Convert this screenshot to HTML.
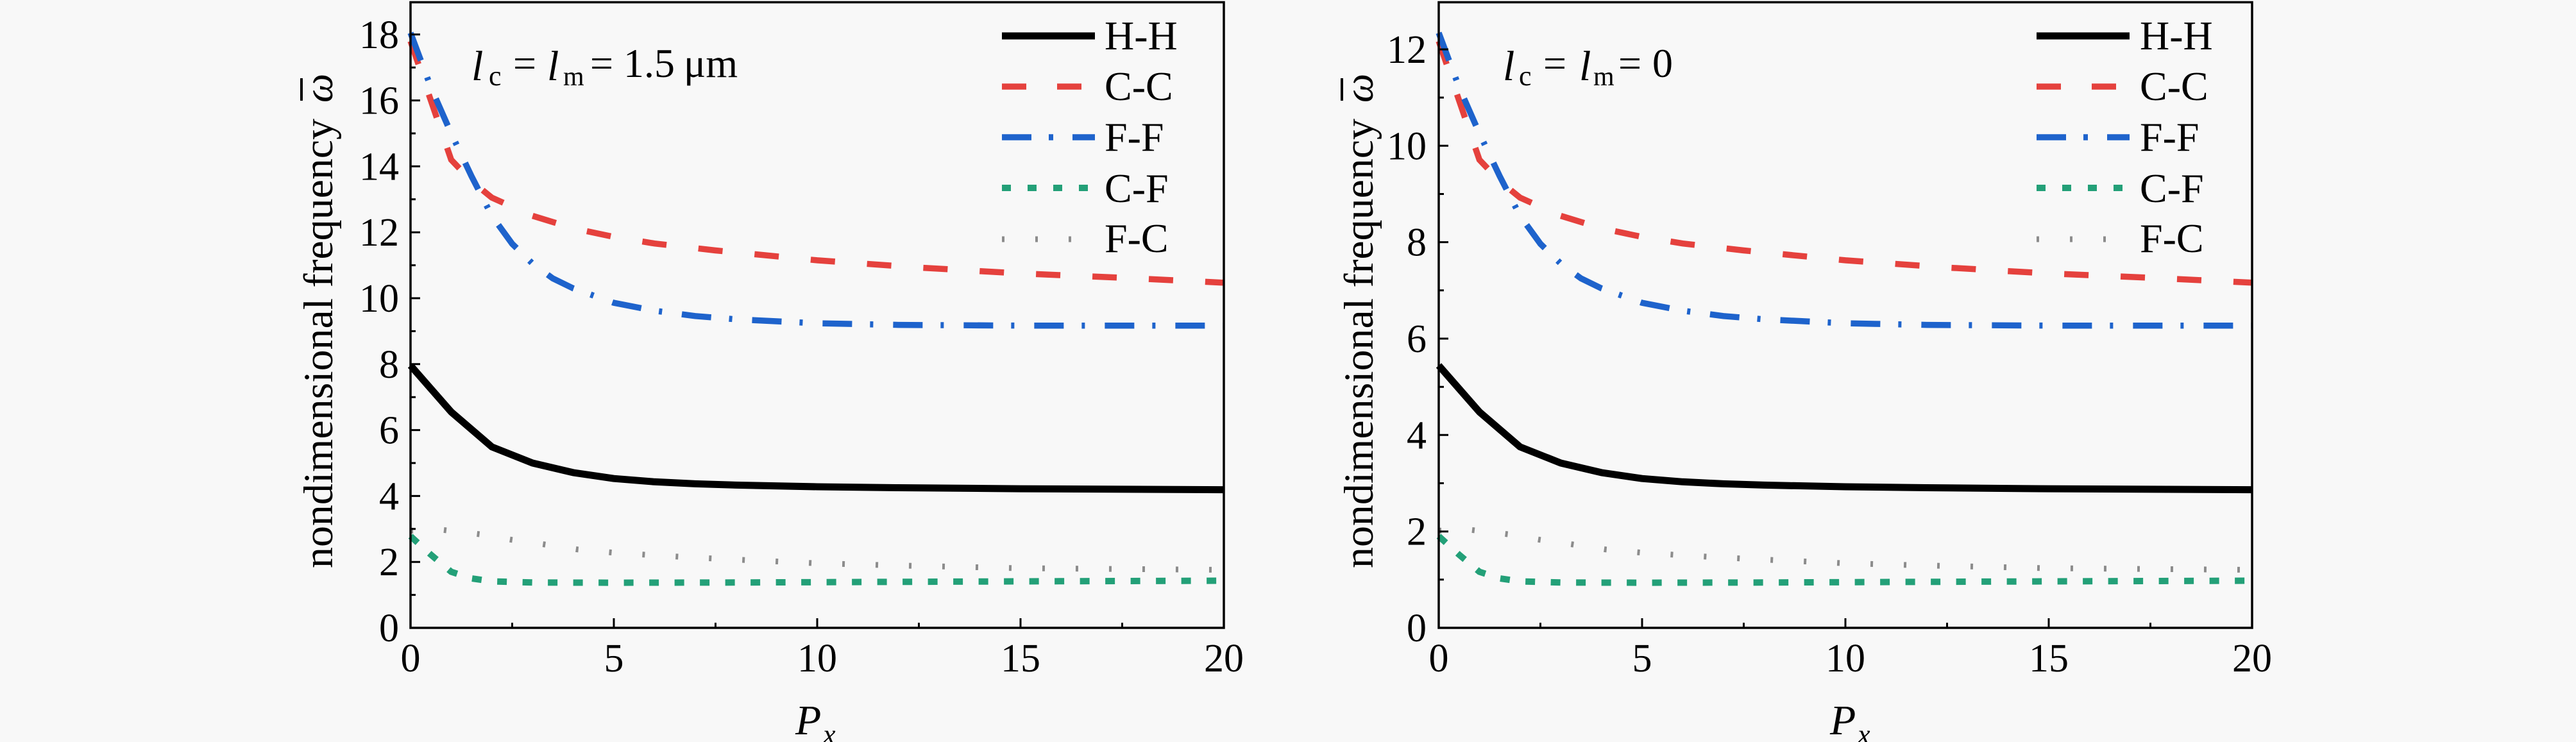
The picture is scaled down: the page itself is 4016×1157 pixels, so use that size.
<!DOCTYPE html>
<html>
<head>
<meta charset="utf-8">
<style>
html,body{margin:0;padding:0;background:#f8f8f8;width:4016px;height:1157px;overflow:hidden}
svg{display:block}
text{font-family:"Liberation Serif","DejaVu Serif",serif;fill:#000}
.tk{font-size:62px}
.lg{font-size:64px}
.it{font-style:italic}
</style>
</head>
<body>
<svg width="4016" height="1157" viewBox="0 0 4016 1157" xmlns="http://www.w3.org/2000/svg">
<rect x="0" y="0" width="4016" height="1157" fill="#f8f8f8"/>

<!-- ============ LEFT PLOT ============ -->
<g fill="none" stroke-linecap="butt">
  <path d="M640,836.1 L671.7,864.9 L703.4,891.6 L735.1,901.9 L766.8,906.5 L830.2,908.3 L957,908.6 L1147.2,908.3 L1274,907.8 L1591,906.5 L1908,905.5" stroke="#23a078" stroke-width="10" stroke-dasharray="15 24.5"/>
  <path d="M640,827.4 L690.7,826.3 L747.8,833 L798.5,841.8 L849.2,849 L899.9,856.7 L957,861.8 L1020.4,865.9 L1083.8,869.5 L1147.2,872.6 L1274,878.3 L1400.8,881.8 L1591,886 L1908,888.5" stroke="#8c8c8c" stroke-width="9" stroke-dasharray="4 48"/>
  <path d="M640,569.9 L703.4,642.3 L766.8,696.8 L830.2,722 L893.6,736.9 L957,746.2 L1020.4,751.3 L1083.8,754.4 L1147.2,756.4 L1274,759 L1400.8,760.5 L1591,762.1 L1908,763.6" stroke="#000" stroke-width="11" stroke-linejoin="round"/>
  <path d="M640,64.1 L671.7,156.6 L703.4,249.1 L735.1,282.5 L766.8,308.2 L830.2,336.5 L893.6,356 L957,369.4 L1020.4,379.7 L1115.5,390.5 L1274,405.9 L1432.5,417.2 L1591,426.4 L1749.5,433.1 L1908,440.8" stroke="#e5413d" stroke-width="9.5" stroke-dasharray="38 50"/>
  <path d="M640,51.2 L671.7,136 L703.4,208 L735.1,274.8 L766.8,336.5 L798.5,380.2 L830.2,411 L861.9,434.2 L893.6,449.6 L957,472.2 L1020.4,484.5 L1083.8,492.8 L1147.2,497.9 L1274,504.1 L1400.8,506.6 L1591,507.7 L1908,507.7" stroke="#1e63cc" stroke-width="9.5" stroke-dasharray="46 28 5 31"/>
</g>

<rect x="640" y="3.5" width="1268" height="975.5" fill="none" stroke="#000" stroke-width="3.5"/>
<path d="M640,876.2h15M640,773.4h15M640,670.6h15M640,567.8h15M640,465h15M640,362.2h15M640,259.4h15M640,156.6h15M640,53.8h15
M640,927.6h8M640,824.8h8M640,722h8M640,619.2h8M640,516.4h8M640,413.6h8M640,310.8h8M640,208h8M640,105.2h8
M957,979v-15M1274,979v-15M1591,979v-15
M798.5,979v-8M1115.5,979v-8M1432.5,979v-8M1749.5,979v-8" stroke="#000" stroke-width="3" fill="none"/>

<g class="tk" text-anchor="end">
<text x="622" y="1000">0</text>
<text x="622" y="897.2">2</text>
<text x="622" y="794.4">4</text>
<text x="622" y="691.6">6</text>
<text x="622" y="588.8">8</text>
<text x="622" y="486">10</text>
<text x="622" y="383.2">12</text>
<text x="622" y="280.4">14</text>
<text x="622" y="177.6">16</text>
<text x="622" y="74.8">18</text>
</g>
<g class="tk" text-anchor="middle">
<text x="640" y="1047">0</text>
<text x="957" y="1047">5</text>
<text x="1274" y="1047">10</text>
<text x="1591" y="1047">15</text>
<text x="1908" y="1047">20</text>
</g>
<text x="1240" y="1145" class="it" font-size="66">P</text>
<text x="1283" y="1160" class="it" font-size="44">x</text>
<g transform="translate(518,886) rotate(-90)">
  <text x="0" y="0" font-size="65" textLength="701" lengthAdjust="spacingAndGlyphs">nondimensional frequency</text>
  <text x="726" y="0" font-size="64" class="it">ω</text>
</g>
<line x1="470" y1="122" x2="470" y2="157" stroke="#000" stroke-width="4"/>

<text x="735" y="125" class="it" font-size="66">l</text>
<text x="762" y="133" font-size="44">c</text>
<text x="800" y="120" font-size="64">=</text>
<text x="853" y="125" class="it" font-size="66">l</text>
<text x="878" y="133" font-size="42">m</text>
<text x="920" y="120" font-size="64">=</text>
<text x="972" y="120" font-size="64">1.5</text>
<text x="1066" y="120" font-size="64">μm</text>

<g fill="none">
  <path d="M1562,56H1707" stroke="#000" stroke-width="11"/>
  <path d="M1562,135H1707" stroke="#e5413d" stroke-width="9.5" stroke-dasharray="38 48"/>
  <path d="M1562,214H1707" stroke="#1e63cc" stroke-width="9.5" stroke-dasharray="46 27 7 30"/>
  <path d="M1562,293H1707" stroke="#23a078" stroke-width="10" stroke-dasharray="14 26"/>
  <path d="M1562,373H1707" stroke="#8c8c8c" stroke-width="9" stroke-dasharray="4 48"/>
</g>
<g class="lg">
<text x="1722" y="77">H-H</text>
<text x="1722" y="156">C-C</text>
<text x="1722" y="235">F-F</text>
<text x="1722" y="315">C-F</text>
<text x="1722" y="393">F-C</text>
</g>

<!-- ============ RIGHT PLOT ============ -->
<g transform="translate(1603,0)" fill="none" stroke-linecap="butt">
  <path d="M640,836.1 L671.7,864.9 L703.4,891.6 L735.1,901.9 L766.8,906.5 L830.2,908.3 L957,908.6 L1147.2,908.3 L1274,907.8 L1591,906.5 L1908,905.5" stroke="#23a078" stroke-width="10" stroke-dasharray="15 24.5"/>
  <path d="M640,827.4 L690.7,826.3 L747.8,833 L798.5,841.8 L849.2,849 L899.9,856.7 L957,861.8 L1020.4,865.9 L1083.8,869.5 L1147.2,872.6 L1274,878.3 L1400.8,881.8 L1591,886 L1908,888.5" stroke="#8c8c8c" stroke-width="9" stroke-dasharray="4 48"/>
  <path d="M640,569.9 L703.4,642.3 L766.8,696.8 L830.2,722 L893.6,736.9 L957,746.2 L1020.4,751.3 L1083.8,754.4 L1147.2,756.4 L1274,759 L1400.8,760.5 L1591,762.1 L1908,763.6" stroke="#000" stroke-width="11" stroke-linejoin="round"/>
  <path d="M640,64.1 L671.7,156.6 L703.4,249.1 L735.1,282.5 L766.8,308.2 L830.2,336.5 L893.6,356 L957,369.4 L1020.4,379.7 L1115.5,390.5 L1274,405.9 L1432.5,417.2 L1591,426.4 L1749.5,433.1 L1908,440.8" stroke="#e5413d" stroke-width="9.5" stroke-dasharray="38 50"/>
  <path d="M640,51.2 L671.7,136 L703.4,208 L735.1,274.8 L766.8,336.5 L798.5,380.2 L830.2,411 L861.9,434.2 L893.6,449.6 L957,472.2 L1020.4,484.5 L1083.8,492.8 L1147.2,497.9 L1274,504.1 L1400.8,506.6 L1591,507.7 L1908,507.7" stroke="#1e63cc" stroke-width="9.5" stroke-dasharray="46 28 5 31"/>
</g>

<rect x="2243" y="3.5" width="1268" height="975.5" fill="none" stroke="#000" stroke-width="3.5"/>
<path d="M2243,828.7h15M2243,678.3h15M2243,528h15M2243,377.6h15M2243,227.3h15M2243,77h15
M2243,903.8h8M2243,753.5h8M2243,603.2h8M2243,452.8h8M2243,302.5h8M2243,152.1h8
M2560,979v-15M2877,979v-15M3194,979v-15
M2401.5,979v-8M2718.5,979v-8M3035.5,979v-8M3352.5,979v-8" stroke="#000" stroke-width="3" fill="none"/>

<g class="tk" text-anchor="end">
<text x="2224" y="1000">0</text>
<text x="2224" y="849.7">2</text>
<text x="2224" y="699.3">4</text>
<text x="2224" y="549">6</text>
<text x="2224" y="398.6">8</text>
<text x="2224" y="248.3">10</text>
<text x="2224" y="98">12</text>
</g>
<g class="tk" text-anchor="middle">
<text x="2243" y="1047">0</text>
<text x="2560" y="1047">5</text>
<text x="2877" y="1047">10</text>
<text x="3194" y="1047">15</text>
<text x="3511" y="1047">20</text>
</g>
<text x="2853" y="1145" class="it" font-size="66">P</text>
<text x="2896" y="1160" class="it" font-size="44">x</text>
<g transform="translate(2140,886) rotate(-90)">
  <text x="0" y="0" font-size="65" textLength="701" lengthAdjust="spacingAndGlyphs">nondimensional frequency</text>
  <text x="726" y="0" font-size="64" class="it">ω</text>
</g>
<line x1="2092" y1="122" x2="2092" y2="157" stroke="#000" stroke-width="4"/>

<text x="2343" y="125" class="it" font-size="66">l</text>
<text x="2368" y="133" font-size="44">c</text>
<text x="2406" y="120" font-size="64">=</text>
<text x="2462" y="125" class="it" font-size="66">l</text>
<text x="2484" y="133" font-size="42">m</text>
<text x="2523" y="120" font-size="64">=</text>
<text x="2576" y="120" font-size="64">0</text>

<g fill="none">
  <path d="M3175,56H3320" stroke="#000" stroke-width="11"/>
  <path d="M3175,135H3320" stroke="#e5413d" stroke-width="9.5" stroke-dasharray="38 48"/>
  <path d="M3175,214H3320" stroke="#1e63cc" stroke-width="9.5" stroke-dasharray="46 27 7 30"/>
  <path d="M3175,293H3320" stroke="#23a078" stroke-width="10" stroke-dasharray="14 26"/>
  <path d="M3175,373H3320" stroke="#8c8c8c" stroke-width="9" stroke-dasharray="4 48"/>
</g>
<g class="lg">
<text x="3336" y="77">H-H</text>
<text x="3336" y="156">C-C</text>
<text x="3336" y="235">F-F</text>
<text x="3336" y="315">C-F</text>
<text x="3336" y="393">F-C</text>
</g>
</svg>
</body>
</html>
